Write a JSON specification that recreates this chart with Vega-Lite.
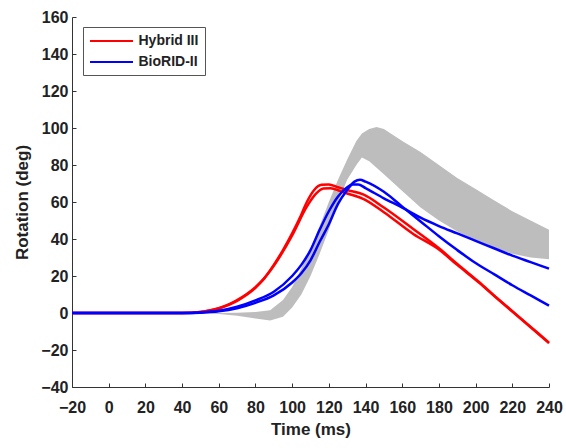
{
  "$schema": "https://vega.github.io/schema/vega-lite/v6.json",
  "width": 477,
  "height": 370,
  "autosize": {"type": "none"},
  "padding": {"left": 72, "top": 17, "right": 17, "bottom": 61},
  "background": "white",
  "config": {
    "view": {"stroke": null},
    "font": "Liberation Sans",
    "axis": {
      "grid": false,
      "domainColor": "#333333",
      "tickColor": "#333333",
      "tickSize": -4,
      "labelOverlap": false,
      "labelFont": "Liberation Sans",
      "labelFontWeight": "bold",
      "labelFontSize": 16,
      "labelColor": "#222222",
      "titleFont": "Liberation Sans",
      "titleFontWeight": "bold",
      "titleFontSize": 17,
      "titleColor": "#222222"
    }
  },
  "datasets": {
    "band": [
      {"t": -20, "v": 0, "hi": 0},
      {"t": 50, "v": 0, "hi": 0},
      {"t": 60, "v": -0.5, "hi": 0},
      {"t": 70, "v": -1.5, "hi": 0.2},
      {"t": 80, "v": -3, "hi": 0.5},
      {"t": 88, "v": -4, "hi": 1.5},
      {"t": 95, "v": -2, "hi": 7},
      {"t": 100, "v": 3, "hi": 14},
      {"t": 105, "v": 10, "hi": 24},
      {"t": 110, "v": 20, "hi": 35},
      {"t": 115, "v": 32, "hi": 47},
      {"t": 120, "v": 45, "hi": 60},
      {"t": 125, "v": 60, "hi": 72},
      {"t": 130, "v": 72, "hi": 83},
      {"t": 135, "v": 80, "hi": 93},
      {"t": 138, "v": 84, "hi": 97},
      {"t": 142, "v": 82, "hi": 99.5},
      {"t": 146, "v": 78.5, "hi": 100.5},
      {"t": 150, "v": 75, "hi": 99.5},
      {"t": 160, "v": 66, "hi": 93},
      {"t": 170, "v": 57, "hi": 87},
      {"t": 180, "v": 50, "hi": 80},
      {"t": 190, "v": 44, "hi": 73},
      {"t": 200, "v": 39, "hi": 67},
      {"t": 210, "v": 35, "hi": 61},
      {"t": 220, "v": 32, "hi": 55},
      {"t": 230, "v": 30, "hi": 50},
      {"t": 240, "v": 29, "hi": 45}
    ],
    "curves": [
      {"dummy": "Hybrid III", "run": "H1", "t": -20, "v": 0},
      {"dummy": "Hybrid III", "run": "H1", "t": 40, "v": 0},
      {"dummy": "Hybrid III", "run": "H1", "t": 50, "v": 0.6},
      {"dummy": "Hybrid III", "run": "H1", "t": 60, "v": 2.6},
      {"dummy": "Hybrid III", "run": "H1", "t": 66, "v": 4.9},
      {"dummy": "Hybrid III", "run": "H1", "t": 70, "v": 7},
      {"dummy": "Hybrid III", "run": "H1", "t": 80, "v": 14},
      {"dummy": "Hybrid III", "run": "H1", "t": 85, "v": 19},
      {"dummy": "Hybrid III", "run": "H1", "t": 90, "v": 26},
      {"dummy": "Hybrid III", "run": "H1", "t": 95, "v": 34},
      {"dummy": "Hybrid III", "run": "H1", "t": 100, "v": 43},
      {"dummy": "Hybrid III", "run": "H1", "t": 104, "v": 51},
      {"dummy": "Hybrid III", "run": "H1", "t": 108, "v": 60},
      {"dummy": "Hybrid III", "run": "H1", "t": 112, "v": 66.5},
      {"dummy": "Hybrid III", "run": "H1", "t": 116, "v": 69.3},
      {"dummy": "Hybrid III", "run": "H1", "t": 120, "v": 69.5},
      {"dummy": "Hybrid III", "run": "H1", "t": 125, "v": 68},
      {"dummy": "Hybrid III", "run": "H1", "t": 130, "v": 66.5},
      {"dummy": "Hybrid III", "run": "H1", "t": 139, "v": 64},
      {"dummy": "Hybrid III", "run": "H1", "t": 150, "v": 57},
      {"dummy": "Hybrid III", "run": "H1", "t": 166, "v": 45.4},
      {"dummy": "Hybrid III", "run": "H1", "t": 180, "v": 35},
      {"dummy": "Hybrid III", "run": "H1", "t": 190, "v": 26.5},
      {"dummy": "Hybrid III", "run": "H1", "t": 202, "v": 16.6},
      {"dummy": "Hybrid III", "run": "H1", "t": 210, "v": 9.5},
      {"dummy": "Hybrid III", "run": "H1", "t": 220, "v": 1},
      {"dummy": "Hybrid III", "run": "H1", "t": 230, "v": -7.5},
      {"dummy": "Hybrid III", "run": "H1", "t": 240, "v": -16},
      {"dummy": "Hybrid III", "run": "H2", "t": -20, "v": 0},
      {"dummy": "Hybrid III", "run": "H2", "t": 40, "v": 0},
      {"dummy": "Hybrid III", "run": "H2", "t": 50, "v": 0.5},
      {"dummy": "Hybrid III", "run": "H2", "t": 60, "v": 2.4},
      {"dummy": "Hybrid III", "run": "H2", "t": 70, "v": 6.6},
      {"dummy": "Hybrid III", "run": "H2", "t": 80, "v": 13.6},
      {"dummy": "Hybrid III", "run": "H2", "t": 90, "v": 25.5},
      {"dummy": "Hybrid III", "run": "H2", "t": 100, "v": 42},
      {"dummy": "Hybrid III", "run": "H2", "t": 108, "v": 57.5},
      {"dummy": "Hybrid III", "run": "H2", "t": 113, "v": 64.5},
      {"dummy": "Hybrid III", "run": "H2", "t": 117, "v": 67.3},
      {"dummy": "Hybrid III", "run": "H2", "t": 121, "v": 67.5},
      {"dummy": "Hybrid III", "run": "H2", "t": 126, "v": 66},
      {"dummy": "Hybrid III", "run": "H2", "t": 130, "v": 64.6},
      {"dummy": "Hybrid III", "run": "H2", "t": 139, "v": 61.6},
      {"dummy": "Hybrid III", "run": "H2", "t": 150, "v": 54.5},
      {"dummy": "Hybrid III", "run": "H2", "t": 166, "v": 42.7},
      {"dummy": "Hybrid III", "run": "H2", "t": 180, "v": 34.3},
      {"dummy": "Hybrid III", "run": "H2", "t": 190, "v": 26},
      {"dummy": "Hybrid III", "run": "H2", "t": 202, "v": 16.3},
      {"dummy": "Hybrid III", "run": "H2", "t": 210, "v": 9.3},
      {"dummy": "Hybrid III", "run": "H2", "t": 220, "v": 0.8},
      {"dummy": "Hybrid III", "run": "H2", "t": 230, "v": -7.7},
      {"dummy": "Hybrid III", "run": "H2", "t": 240, "v": -16.3},
      {"dummy": "BioRID-II", "run": "B1", "t": -20, "v": 0},
      {"dummy": "BioRID-II", "run": "B1", "t": 40, "v": 0},
      {"dummy": "BioRID-II", "run": "B1", "t": 50, "v": 0.3},
      {"dummy": "BioRID-II", "run": "B1", "t": 60, "v": 1.2},
      {"dummy": "BioRID-II", "run": "B1", "t": 70, "v": 3.4},
      {"dummy": "BioRID-II", "run": "B1", "t": 80, "v": 6.8},
      {"dummy": "BioRID-II", "run": "B1", "t": 90, "v": 11.5},
      {"dummy": "BioRID-II", "run": "B1", "t": 100, "v": 20},
      {"dummy": "BioRID-II", "run": "B1", "t": 105, "v": 26},
      {"dummy": "BioRID-II", "run": "B1", "t": 110, "v": 34},
      {"dummy": "BioRID-II", "run": "B1", "t": 115, "v": 45},
      {"dummy": "BioRID-II", "run": "B1", "t": 120, "v": 55},
      {"dummy": "BioRID-II", "run": "B1", "t": 125, "v": 63},
      {"dummy": "BioRID-II", "run": "B1", "t": 130, "v": 68},
      {"dummy": "BioRID-II", "run": "B1", "t": 133, "v": 69.5},
      {"dummy": "BioRID-II", "run": "B1", "t": 136, "v": 69.5},
      {"dummy": "BioRID-II", "run": "B1", "t": 140, "v": 67.5},
      {"dummy": "BioRID-II", "run": "B1", "t": 150, "v": 62},
      {"dummy": "BioRID-II", "run": "B1", "t": 160, "v": 57},
      {"dummy": "BioRID-II", "run": "B1", "t": 170, "v": 51.5},
      {"dummy": "BioRID-II", "run": "B1", "t": 180, "v": 47},
      {"dummy": "BioRID-II", "run": "B1", "t": 190, "v": 43},
      {"dummy": "BioRID-II", "run": "B1", "t": 200, "v": 39},
      {"dummy": "BioRID-II", "run": "B1", "t": 210, "v": 35},
      {"dummy": "BioRID-II", "run": "B1", "t": 220, "v": 31},
      {"dummy": "BioRID-II", "run": "B1", "t": 230, "v": 27.5},
      {"dummy": "BioRID-II", "run": "B1", "t": 240, "v": 24},
      {"dummy": "BioRID-II", "run": "B2", "t": -20, "v": 0},
      {"dummy": "BioRID-II", "run": "B2", "t": 40, "v": 0},
      {"dummy": "BioRID-II", "run": "B2", "t": 50, "v": 0.2},
      {"dummy": "BioRID-II", "run": "B2", "t": 60, "v": 0.9},
      {"dummy": "BioRID-II", "run": "B2", "t": 70, "v": 2.6},
      {"dummy": "BioRID-II", "run": "B2", "t": 80, "v": 5.5},
      {"dummy": "BioRID-II", "run": "B2", "t": 90, "v": 9.5},
      {"dummy": "BioRID-II", "run": "B2", "t": 100, "v": 16.5},
      {"dummy": "BioRID-II", "run": "B2", "t": 105, "v": 21.5},
      {"dummy": "BioRID-II", "run": "B2", "t": 110, "v": 28.5},
      {"dummy": "BioRID-II", "run": "B2", "t": 115, "v": 38.5},
      {"dummy": "BioRID-II", "run": "B2", "t": 120, "v": 48},
      {"dummy": "BioRID-II", "run": "B2", "t": 125, "v": 59},
      {"dummy": "BioRID-II", "run": "B2", "t": 130, "v": 66.5},
      {"dummy": "BioRID-II", "run": "B2", "t": 134, "v": 71},
      {"dummy": "BioRID-II", "run": "B2", "t": 137, "v": 72},
      {"dummy": "BioRID-II", "run": "B2", "t": 140, "v": 71},
      {"dummy": "BioRID-II", "run": "B2", "t": 150, "v": 65.5},
      {"dummy": "BioRID-II", "run": "B2", "t": 160, "v": 57.5},
      {"dummy": "BioRID-II", "run": "B2", "t": 170, "v": 49.5},
      {"dummy": "BioRID-II", "run": "B2", "t": 180, "v": 41.5},
      {"dummy": "BioRID-II", "run": "B2", "t": 190, "v": 34},
      {"dummy": "BioRID-II", "run": "B2", "t": 200, "v": 27},
      {"dummy": "BioRID-II", "run": "B2", "t": 210, "v": 21},
      {"dummy": "BioRID-II", "run": "B2", "t": 220, "v": 15},
      {"dummy": "BioRID-II", "run": "B2", "t": 230, "v": 9.5},
      {"dummy": "BioRID-II", "run": "B2", "t": 240, "v": 4}
    ]
  },
  "encoding": {
    "x": {"field": "t", "type": "quantitative", "scale": {"domain": [-20, 240], "nice": false}, "axis": {"title": "Time (ms)", "values": [-20, 0, 20, 40, 60, 80, 100, 120, 140, 160, 180, 200, 220, 240], "labelOverlap": false, "labelBound": false, "labelFlush": false, "labelPadding": 16, "titlePadding": 6}},
    "y": {"field": "v", "type": "quantitative", "scale": {"domain": [-40, 160], "nice": false}, "axis": {"title": "Rotation (deg)", "values": [-40, -20, 0, 20, 40, 60, 80, 100, 120, 140, 160], "labelOverlap": false, "labelBound": false, "labelFlush": false, "labelPadding": 8, "titlePadding": 9}}
  },
  "layer": [
    {
      "data": {"name": "band"},
      "mark": {"type": "area", "color": "#bdbdbd", "opacity": 1},
      "encoding": {
        "y2": {"field": "hi"}
      }
    },
    {
      "data": {"name": "curves"},
      "mark": {"type": "line", "strokeWidth": 2.5, "interpolate": "monotone"},
      "encoding": {
        "detail": {"field": "run"},
        "color": {
          "field": "dummy",
          "type": "nominal",
          "scale": {"domain": ["Hybrid III", "BioRID-II"], "range": ["#ff0000", "#0000ff"]},
          "legend": {
            "title": null,
            "orient": "none",
            "legendX": 11,
            "legendY": 10,
            "symbolType": "M-3.07,0H3.07",
            "symbolSize": 196,
            "symbolOffset": 14.5,
            "symbolStrokeWidth": 2,
            "symbolFillColor": "transparent",
            "labelFont": "Liberation Sans",
            "labelFontWeight": "bold",
            "labelFontSize": 14,
            "labelColor": "#222222",
            "labelOffset": 19,
            "rowPadding": 6,
            "padding": 6,
            "strokeColor": "#555555",
            "fillColor": "white"
          }
        }
      }
    }
  ]
}
